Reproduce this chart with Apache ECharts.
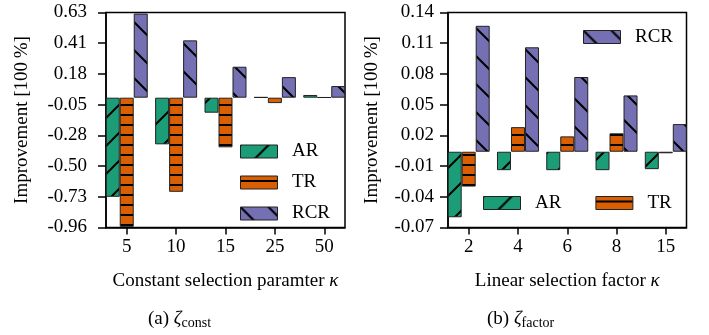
<!DOCTYPE html>
<html>
<head>
<meta charset="utf-8">
<script src="https://cdn.jsdelivr.net/npm/echarts@6/dist/echarts.min.js"></script>
<style>
html,body{margin:0;padding:0;background:#fff;}
#chart{width:709px;height:335px;}
</style>
</head>
<body>
<div id="chart"></div>
<script>
// ---------- data ----------
const categoriesA = ['5', '10', '15', '25', '50'];
const arA  = [-0.733, -0.345, -0.111, 0.004, 0.020];
const trA  = [-0.955, -0.696, -0.367, -0.040, 0.003];
const rcrA = [0.622, 0.424, 0.229, 0.152, 0.086];

const categoriesB = ['2', '4', '6', '8', '15'];
const arB  = [-0.064, -0.018, -0.018, -0.018, -0.017];
const trB  = [-0.034, 0.024, 0.015, 0.018, -0.0015];
const rcrB = [0.123, 0.102, 0.073, 0.055, 0.027];

const yTicksA  = [-0.96, -0.7329, -0.5057, -0.2786, -0.0514, 0.1757, 0.4029, 0.63];
const yLabelsA = ['-0.96', '-0.73', '-0.50', '-0.28', '-0.05', '0.18', '0.41', '0.63'];
const yTicksB  = [-0.074, -0.044, -0.014, 0.016, 0.046, 0.076, 0.106, 0.136];
const yLabelsB = ['-0.07', '-0.04', '-0.01', '0.02', '0.05', '0.08', '0.11', '0.14'];

const xTitleA = 'Constant selection paramter {k|κ}';
const xTitleB = 'Linear selection factor {k|κ}';
const yTitle = 'Improvement [100\u2009%]';

// ---------- styles ----------
const FONT = 'Liberation Serif';
const C_AR = '#1b9e77', C_TR = '#d95f02', C_RCR = '#7570b3';

function hatch(bg, kind) {
  const P = kind === 'h' ? 10 : 28;
  const c = document.createElement('canvas');
  c.width = P; c.height = P;
  const g = c.getContext('2d');
  g.fillStyle = bg; g.fillRect(0, 0, P, P);
  g.strokeStyle = '#000'; g.fillStyle = '#000'; g.lineWidth = 2;
  if (kind === 'h') {
    g.fillRect(0, 4, P, 2);
  } else if (kind === '/') {
    g.beginPath();
    g.moveTo(-2, 2); g.lineTo(2, -2);
    g.moveTo(0, P); g.lineTo(P, 0);
    g.moveTo(P - 2, P + 2); g.lineTo(P + 2, P - 2);
    g.stroke();
  } else {
    g.beginPath();
    g.moveTo(-2, P - 2); g.lineTo(2, P + 2);
    g.moveTo(0, 0); g.lineTo(P, P);
    g.moveTo(P - 2, -2); g.lineTo(P + 2, 2);
    g.stroke();
  }
  return { image: c, repeat: 'repeat' };
}
const patAR = hatch(C_AR, '/');
const patTR = hatch(C_TR, 'h');
const patRCR = hatch(C_RCR, '\\');

const txt = { fontFamily: FONT, fontSize: 19, color: '#000', fontWeight: 'normal' };

function xAxis(idx, cats, title, gap) {
  return {
    type: 'value', gridIndex: idx, min: -0.42, max: 4.42,
    axisLine: { show: true, onZero: false, lineStyle: { color: '#000', width: 1.5 } },
    axisTick: { show: true, length: 7, customValues: cats.map((c, i) => i), lineStyle: { color: '#000', width: 1.5 } },
    axisLabel: Object.assign({ customValues: cats.map((c, i) => i), margin: 10,
      formatter: v => cats[Math.round(v)] }, txt),
    splitLine: { show: false },
    name: title, nameLocation: 'middle', nameGap: gap,
    nameTextStyle: Object.assign({ rich: { k: { fontFamily: FONT, fontSize: 19, fontStyle: 'italic', color: '#000' } } }, txt)
  };
}
function yAxis(idx, ticks, labels, min, max, margin, gap) {
  return {
    type: 'value', gridIndex: idx, min: min, max: max,
    axisLine: { show: true, onZero: false, lineStyle: { color: '#000', width: 1.5 } },
    axisTick: { show: true, length: 8, customValues: ticks, lineStyle: { color: '#000', width: 1.5 } },
    axisLabel: Object.assign({ customValues: ticks, margin: margin,
      formatter: v => {
        let best = 0, d = Infinity;
        ticks.forEach((t, i) => { if (Math.abs(t - v) < d) { d = Math.abs(t - v); best = i; } });
        return labels[best];
      } }, txt),
    splitLine: { show: false },
    name: yTitle, nameLocation: 'middle', nameGap: gap, nameRotate: 90,
    nameTextStyle: txt
  };
}
function bars(name, cats, vals, pat, gi) {
  return {
    type: 'bar', name: name, xAxisIndex: gi, yAxisIndex: gi,
    data: cats.map((c, i) => [i, vals[i]]),
    barWidth: 14, barGap: '0%',
    itemStyle: { color: pat, borderColor: '#222', borderWidth: 1 },
    emphasis: { disabled: true }
  };
}
const legendBase = {
  padding: 0, selectedMode: false, icon: 'rect', itemWidth: 37, itemHeight: 13,
  itemStyle: { borderColor: '#222', borderWidth: 1 },
  textStyle: Object.assign({ lineHeight: 14 }, txt),
  formatter: n => '\u2002' + n
};
const capRich = {
  z: { fontFamily: FONT, fontSize: 19, fontStyle: 'italic', fontWeight: 'normal', color: '#000' },
  s: { fontFamily: FONT, fontSize: 14, fontWeight: 'normal', color: '#000', padding: [8, 0, 0, 0] }
};

const chart = echarts.init(document.getElementById('chart'), null, { renderer: 'canvas' });
chart.setOption({
  animation: false,
  backgroundColor: '#fff',
  grid: [
    { left: 106, top: 12.5, width: 239, height: 215, show: true, borderColor: '#000', borderWidth: 1.5 },
    { left: 448, top: 12.5, width: 238.5, height: 215, show: true, borderColor: '#000', borderWidth: 1.5 }
  ],
  xAxis: [xAxis(0, categoriesA, xTitleA, 44), xAxis(1, categoriesB, xTitleB, 44)],
  yAxis: [yAxis(0, yTicksA, yLabelsA, -0.96, 0.63, 19, 74), yAxis(1, yTicksB, yLabelsB, -0.074, 0.136, 14, 66)],
  legend: [
    Object.assign({}, legendBase, { left: 240, top: 142, orient: 'vertical', itemGap: 12, data: ['AR', 'TR', 'RCR'] }),
    Object.assign({}, legendBase, { left: 583, top: 27.5, orient: 'horizontal', data: ['RCR'] }),
    Object.assign({}, legendBase, { left: 483, top: 193.5, orient: 'horizontal', itemGap: 34, data: ['AR', 'TR'] })
  ],
  title: [
    { text: '(a) {z|ζ}{s|const}', left: 148, top: 308, padding: 0,
      textStyle: Object.assign({ rich: capRich }, txt) },
    { text: '(b) {z|ζ}{s|factor}', left: 487, top: 308, padding: 0,
      textStyle: Object.assign({ rich: capRich }, txt) }
  ],
  series: [
    bars('AR', categoriesA, arA, patAR, 0),
    bars('TR', categoriesA, trA, patTR, 0),
    bars('RCR', categoriesA, rcrA, patRCR, 0),
    bars('AR', categoriesB, arB, patAR, 1),
    bars('TR', categoriesB, trB, patTR, 1),
    bars('RCR', categoriesB, rcrB, patRCR, 1)
  ]
});
</script>
</body>
</html>
